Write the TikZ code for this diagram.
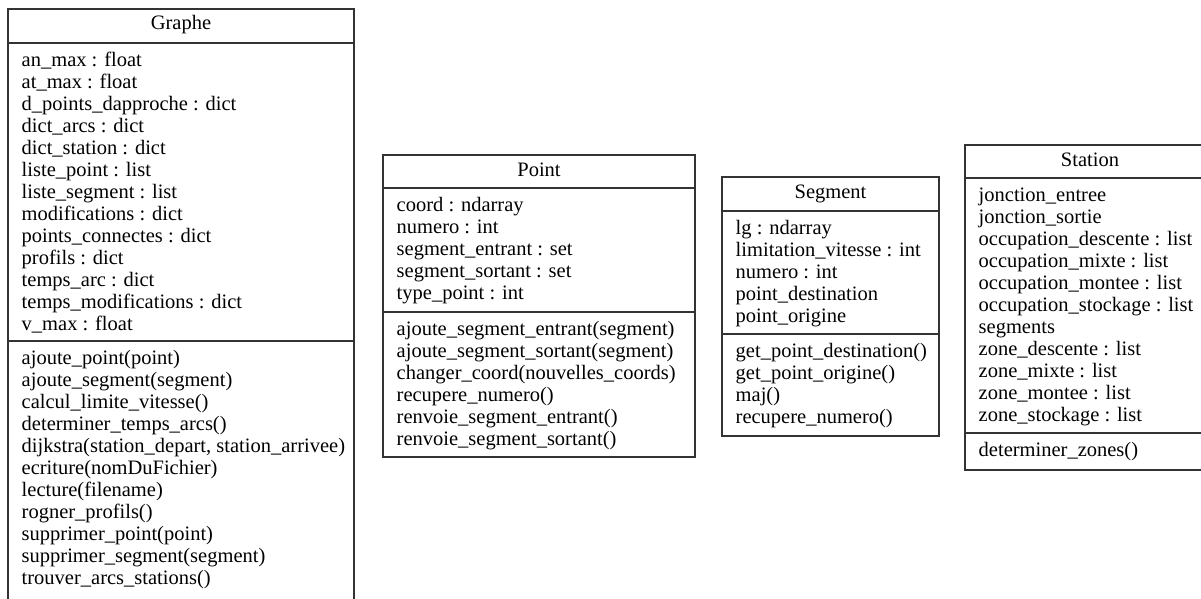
\documentclass[tikz,border=0pt]{standalone}
\usepackage{fontspec}
\setmainfont{Liberation Serif}
\usepackage{array}

% one compartment of a class: members on a 22pt pitch, first baseline at the anchor
\newcommand{\memberlist}[1]{\begin{tabular}[t]{@{}l@{}}#1\end{tabular}}

% \umlclass{id}{left}{right}{top}{sep1}{sep2}{bottom}{title}{attributes}{operations}
\newcommand{\umlclass}[9]{%
  \draw[classline] (#2,#4) rectangle (#3,#7);
  \draw[classline] (#2,#5) -- (#3,#5);
  \draw[classline] (#2,#6) -- (#3,#6);
  \node[classtitle] (#1-title) at ({(#2+#3)/2},#4+21) {#8};
  \node[classmembers] (#1-attr) at (#2+13.5,#5+23.5) {\memberlist{#9}};
  \umlops{#1}{#2}{#6}%
}
\newcommand{\umlops}[4]{%
  \node[classmembers] (#1-ops) at (#2+13.5,#3+23.5) {\memberlist{#4}};
}

\begin{document}
\begin{tikzpicture}[x=1pt,y=-1pt,
  classline/.style={draw=black!80, line width=1.4pt},
  classtitle/.style={anchor=base, inner sep=0pt, font=\fontsize{20.5}{22}\selectfont},
  classmembers/.style={anchor=base west, inner sep=0pt, font=\fontsize{20.5}{22}\selectfont}]
\useasboundingbox (0,0) rectangle (1201,599);
\clip (0,0) rectangle (1201,599);
\fill[white] (0,0) rectangle (1201,599);

\umlclass{graphe}{8}{354}{9}{43}{341}{605}{Graphe}{%
  an\_max : float\\
  at\_max : float\\
  d\_points\_dapproche : dict\\
  dict\_arcs : dict\\
  dict\_station : dict\\
  liste\_point : list\\
  liste\_segment : list\\
  modifications : dict\\
  points\_connectes : dict\\
  profils : dict\\
  temps\_arc : dict\\
  temps\_modifications : dict\\
  v\_max : float}{%
  ajoute\_point(point)\\
  ajoute\_segment(segment)\\
  calcul\_limite\_vitesse()\\
  determiner\_temps\_arcs()\\
  dijkstra(station\_depart, station\_arrivee)\\
  ecriture(nomDuFichier)\\
  lecture(filename)\\
  rogner\_profils()\\
  supprimer\_point(point)\\
  supprimer\_segment(segment)\\
  trouver\_arcs\_stations()}

\umlclass{point}{383}{695}{155}{188}{312}{457}{Point}{%
  coord : ndarray\\
  numero : int\\
  segment\_entrant : set\\
  segment\_sortant : set\\
  type\_point : int}{%
  ajoute\_segment\_entrant(segment)\\
  ajoute\_segment\_sortant(segment)\\
  changer\_coord(nouvelles\_coords)\\
  recupere\_numero()\\
  renvoie\_segment\_entrant()\\
  renvoie\_segment\_sortant()}

\umlclass{segment}{722}{939}{177}{211}{334}{436}{Segment}{%
  lg : ndarray\\
  limitation\_vitesse : int\\
  numero : int\\
  point\_destination\\
  point\_origine}{%
  get\_point\_destination()\\
  get\_point\_origine()\\
  maj()\\
  recupere\_numero()}

\umlclass{station}{965}{1215}{145}{178}{433}{470}{Station}{%
  jonction\_entree\\
  jonction\_sortie\\
  occupation\_descente : list\\
  occupation\_mixte : list\\
  occupation\_montee : list\\
  occupation\_stockage : list\\
  segments\\
  zone\_descente : list\\
  zone\_mixte : list\\
  zone\_montee : list\\
  zone\_stockage : list}{%
  determiner\_zones()}
\end{tikzpicture}
\end{document}
